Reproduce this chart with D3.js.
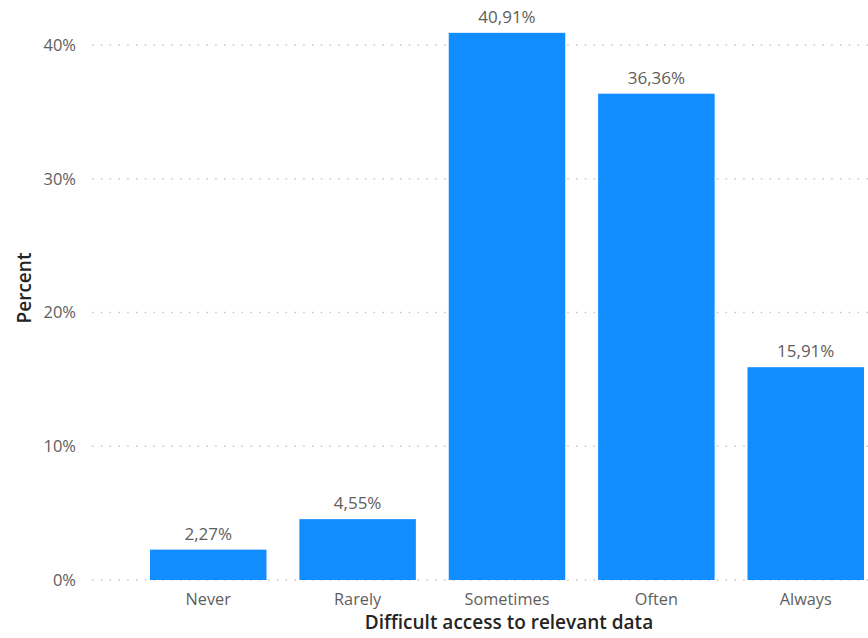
<!DOCTYPE html>
<html><head><meta charset="utf-8">
<script src="https://cdn.jsdelivr.net/npm/d3@7"></script>
<style>body{margin:0;background:#fff;} svg{display:block;}</style>
</head><body>
<svg id="c" width="868" height="638"></svg>
<script>
const categories = ["Never", "Rarely", "Sometimes", "Often", "Always"];
const values = [2.27, 4.55, 40.91, 36.36, 15.91];
const labels = ["2,27%", "4,55%", "40,91%", "36,36%", "15,91%"];
const yTicks = [0, 10, 20, 30, 40];
const yTickLabels = ["0%", "10%", "20%", "30%", "40%"];

const svg = d3.select("#c");
const font = "'Open Sans', 'Noto Sans', sans-serif";
const x = d3.scaleBand().domain(categories).range([150, 864]).paddingInner(0.22).paddingOuter(0);
const y = d3.scaleLinear().domain([0, 40]).range([580, 45]);

// gridlines
svg.append("g").selectAll("line").data(yTicks).join("line")
  .attr("x1", 92).attr("x2", 868)
  .attr("y1", d => y(d)).attr("y2", d => y(d))
  .attr("stroke", "#c8c6c4").attr("stroke-width", 1.5)
  .attr("stroke-dasharray", "1.5,7.3").attr("stroke-linecap", "butt");

// y labels
svg.append("g").selectAll("text").data(yTicks).join("text")
  .attr("x", 76).attr("y", d => y(d)).attr("dy", "0.35em")
  .attr("text-anchor", "end").attr("font-family", font).attr("font-size", 16.5)
  .attr("fill", "#605e5c").text((d, i) => yTickLabels[i]);

// bars
svg.append("g").selectAll("rect").data(values).join("rect")
  .attr("x", (d, i) => x(categories[i])).attr("width", x.bandwidth())
  .attr("y", d => y(d)).attr("height", d => y(0) - y(d))
  .attr("fill", "#118dff");

// data labels
svg.append("g").selectAll("text").data(values).join("text")
  .attr("x", (d, i) => x(categories[i]) + x.bandwidth() / 2)
  .attr("y", d => y(d) - 10)
  .attr("text-anchor", "middle").attr("font-family", font).attr("font-size", 17)
  .attr("fill", "#605e5c").text((d, i) => labels[i]);

// x labels
svg.append("g").selectAll("text").data(categories).join("text")
  .attr("x", d => x(d) + x.bandwidth() / 2).attr("y", 605)
  .attr("text-anchor", "middle").attr("font-family", font).attr("font-size", 16.3)
  .attr("fill", "#605e5c").text(d => d);

// axis titles
svg.append("text").attr("x", 509).attr("y", 629).attr("text-anchor", "middle")
  .attr("font-family", font).attr("font-size", 19).attr("font-weight", 600)
  .attr("fill", "#252423").text("Difficult access to relevant data");
svg.append("text").attr("transform", "translate(31,288) rotate(-90)").attr("text-anchor", "middle")
  .attr("font-family", font).attr("font-size", 19).attr("font-weight", 600)
  .attr("fill", "#252423").text("Percent");
</script>
</body></html>
